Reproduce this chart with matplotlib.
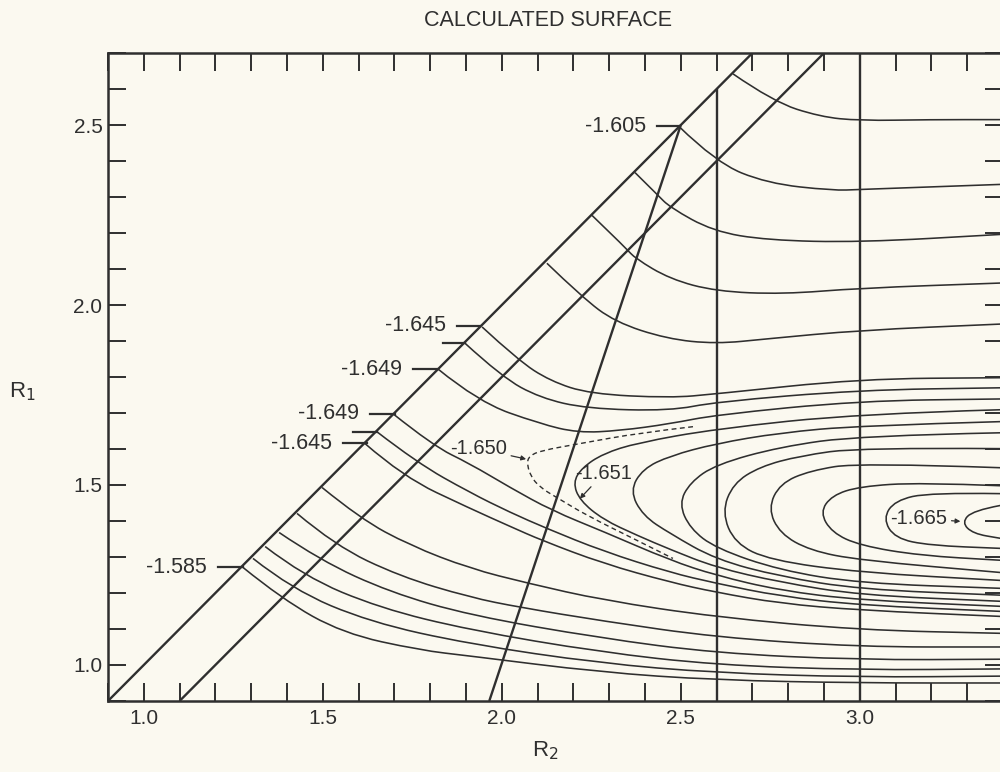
import numpy as np
import matplotlib.pyplot as plt
from matplotlib import font_manager
from matplotlib.path import Path
from matplotlib.patches import PathPatch
from matplotlib.ticker import MultipleLocator, FixedLocator

INK = '#2f2f2f'
PAPER = '#fbf9f0'

installed = {f.name for f in font_manager.fontManager.ttflist}
SANS = ['Liberation Sans', 'DejaVu Sans']
NARROW = ['Liberation Sans Narrow', 'DejaVu Sans'] if 'Liberation Sans Narrow' in installed else SANS

# straight cuts through the surface, (R2, R1) end points
symmetric_line = [(0.9, 0.9), (2.7, 2.7)]
offset_line = [(1.1, 0.9), (2.9, 2.7)]
steep_line = [(1.965, 0.9), (2.5, 2.5)]
cut_r2_26 = [(2.6, 0.9), (2.6, 2.6)]
cut_r2_30 = [(3.0, 0.9), (3.0, 2.7)]

# contours leaving the upper part of the R1 = R2 line, (R2, R1)
upper_1 = [(2.646, 2.642), (2.758, 2.565), (2.889, 2.523), (3.0, 2.512), (3.196, 2.515), (3.392, 2.515)]
upper_2 = [(2.495, 2.496), (2.598, 2.396), (2.741, 2.338), (2.925, 2.318), (3.0, 2.321), (3.392, 2.335)]
upper_3 = [(2.372, 2.368), (2.434, 2.307), (2.470, 2.271), (2.590, 2.205), (2.741, 2.180), (3.0, 2.174),
           (3.392, 2.196)]
upper_4 = [(2.252, 2.249), (2.350, 2.155), (2.372, 2.130), (2.470, 2.072), (2.598, 2.038), (2.785, 2.030),
           (3.0, 2.047), (3.392, 2.061)]
upper_5 = [(2.126, 2.116), (2.224, 2.022), (2.316, 1.953), (2.461, 1.906), (2.598, 1.892), (2.741, 1.906),
           (3.0, 1.930), (3.392, 1.947)]
upper_6 = [(1.945, 1.939), (2.045, 1.847), (2.135, 1.789), (2.246, 1.753), (2.470, 1.742), (2.598, 1.753),
           (3.0, 1.795), (3.392, 1.798)]
upper_7 = [(1.897, 1.894), (2.0, 1.800), (2.107, 1.742), (2.238, 1.712), (2.470, 1.706), (2.598, 1.731),
           (3.0, 1.764), (3.392, 1.770)]
upper_8 = [(1.822, 1.822), (1.934, 1.731), (2.107, 1.670), (2.213, 1.645), (2.330, 1.651), (2.470, 1.670),
           (2.598, 1.695), (3.0, 1.734), (3.392, 1.739)]

# contours leaving the lower part of the R1 = R2 line
lower_1 = [(1.696, 1.698), (1.808, 1.609), (1.911, 1.559), (2.023, 1.493), (2.140, 1.429), (2.283, 1.371),
           (2.470, 1.291), (2.598, 1.249), (2.777, 1.207), (3.0, 1.180), (3.392, 1.163)]
lower_2 = [(1.651, 1.648), (1.763, 1.562), (1.911, 1.479), (2.023, 1.424), (2.126, 1.379), (2.283, 1.316),
           (2.470, 1.257), (2.598, 1.227), (2.777, 1.191), (3.0, 1.166), (3.392, 1.149)]
lower_3 = [(1.618, 1.615), (1.724, 1.523), (1.911, 1.435), (2.023, 1.385), (2.112, 1.346), (2.283, 1.282),
           (2.470, 1.230), (2.598, 1.202), (2.777, 1.171), (3.0, 1.152), (3.392, 1.135)]
lower_4 = [(1.498, 1.493), (1.604, 1.407), (1.744, 1.332), (1.911, 1.268), (2.073, 1.227), (2.283, 1.180),
           (2.598, 1.133), (3.0, 1.097), (3.392, 1.088)]
lower_5 = [(1.428, 1.421), (1.534, 1.332), (1.716, 1.246), (1.911, 1.188), (2.051, 1.160), (2.283, 1.122),
           (2.598, 1.077), (3.0, 1.050), (3.392, 1.050)]
lower_6 = [(1.378, 1.368), (1.492, 1.291), (1.688, 1.202), (1.911, 1.138), (2.274, 1.075), (2.598, 1.033),
           (3.0, 1.014), (3.392, 1.016)]
lower_7 = [(1.339, 1.329), (1.447, 1.246), (1.660, 1.158), (1.911, 1.097), (2.274, 1.036), (2.598, 1.0),
           (3.0, 0.986), (3.392, 0.989)]
lower_8 = [(1.305, 1.296), (1.414, 1.210), (1.632, 1.119), (1.911, 1.058), (2.274, 1.005), (2.598, 0.978),
           (3.0, 0.966), (3.392, 0.969)]
lower_9 = [(1.277, 1.271), (1.386, 1.183), (1.556, 1.088), (1.772, 1.041), (1.911, 1.025), (2.274, 0.980),
           (2.598, 0.958), (3.0, 0.950), (3.392, 0.950)]

# -1.650 contour, drawn dashed
saddle_1650 = [(2.534, 1.662), (2.386, 1.645), (2.218, 1.615), (2.107, 1.595), (2.079, 1.581), (2.070, 1.565),
               (2.079, 1.526), (2.107, 1.493), (2.154, 1.465), (2.238, 1.415), (2.378, 1.346), (2.478, 1.296)]

# nested contours around the well, open towards large R2
well_1 = [(3.392, 1.709), (3.0, 1.698), (2.598, 1.656), (2.378, 1.617), (2.283, 1.587), (2.224, 1.548),
          (2.199, 1.507), (2.218, 1.457), (2.283, 1.404), (2.378, 1.360), (2.470, 1.321), (2.598, 1.271),
          (2.777, 1.230), (3.0, 1.194), (3.392, 1.177)]
well_2 = [(3.392, 1.676), (3.0, 1.665), (2.777, 1.645), (2.598, 1.615), (2.470, 1.581), (2.394, 1.545),
          (2.358, 1.484), (2.394, 1.415), (2.470, 1.365), (2.598, 1.293), (2.777, 1.246), (3.0, 1.210),
          (3.392, 1.194)]
well_3 = [(3.392, 1.645), (3.0, 1.637), (2.777, 1.606), (2.598, 1.557), (2.526, 1.507), (2.495, 1.448),
          (2.526, 1.379), (2.598, 1.324), (2.777, 1.263), (3.0, 1.227), (3.392, 1.213)]
well_4 = [(3.392, 1.601), (3.0, 1.604), (2.833, 1.581), (2.721, 1.551), (2.646, 1.504), (2.615, 1.424),
          (2.651, 1.338), (2.749, 1.291), (3.0, 1.257), (3.392, 1.235)]
well_5 = [(3.392, 1.548), (3.0, 1.562), (2.861, 1.540), (2.777, 1.504), (2.744, 1.435), (2.777, 1.365),
          (2.861, 1.318), (3.0, 1.291), (3.392, 1.257)]
well_6 = [(3.392, 1.498), (3.168, 1.507), (3.0, 1.496), (2.922, 1.471), (2.889, 1.424), (2.922, 1.368),
          (3.0, 1.332), (3.168, 1.304), (3.392, 1.291)]
well_7 = [(3.392, 1.476), (3.196, 1.479), (3.098, 1.457), (3.065, 1.407), (3.098, 1.352), (3.196, 1.332),
          (3.392, 1.324)]
well_8 = [(3.392, 1.443), (3.316, 1.429), (3.285, 1.396), (3.316, 1.365), (3.392, 1.352)]

# level labels hung off the R1 = R2 line
edge_labels = ['-1.605', '-1.645', '', '-1.649', '-1.649', '', '-1.645', '-1.585']
edge_r1 = [2.497, 1.942, 1.894, 1.822, 1.698, 1.648, 1.616, 1.272]
edge_from = [2.434, 1.875, 1.836, 1.752, 1.632, 1.584, 1.556, 1.207]
edge_to = [2.495, 1.939, 1.897, 1.819, 1.702, 1.651, 1.623, 1.277]

# level labels with arrows: text, text position, arrow tip
arrow_labels = ['-1.650', '-1.651', '-1.665']
arrow_text_xy = [(1.935, 1.601), (2.284, 1.532), (3.165, 1.407)]
arrow_tip_xy = [(2.068, 1.572), (2.218, 1.462), (3.281, 1.399)]


def smooth_path(pts):
    pts = np.asarray(pts, float)
    verts = [pts[0]]
    codes = [Path.MOVETO]
    for i in range(1, len(pts) - 1):
        verts += [pts[i], (pts[i] + pts[i + 1]) / 2]
        codes += [Path.CURVE3, Path.CURVE3]
    verts.append(pts[-1])
    codes.append(Path.LINETO)
    return Path(verts, codes)


fig = plt.figure(figsize=(10, 7.72), dpi=100, facecolor=PAPER)
ax = fig.add_axes([0.108, 0.092, 0.895, 0.8393])
ax.set_facecolor(PAPER)
ax.set_xlim(0.9, 3.4)
ax.set_ylim(0.9, 2.7)

for line in [symmetric_line, offset_line, steep_line, cut_r2_26, cut_r2_30]:
    xs, ys = zip(*line)
    ax.plot(xs, ys, color=INK, lw=1.7, solid_capstyle='butt')

solid = [upper_1, upper_2, upper_3, upper_4, upper_5, upper_6, upper_7, upper_8,
         lower_1, lower_2, lower_3, lower_4, lower_5, lower_6, lower_7, lower_8, lower_9,
         well_1, well_2, well_3, well_4, well_5, well_6, well_7, well_8]
for pts in solid:
    ax.add_patch(PathPatch(smooth_path(pts), fill=False, ec=INK, lw=1.15))

ax.add_patch(PathPatch(smooth_path(saddle_1650), fill=False, ec=INK, lw=1.0,
                       linestyle=(0, (3.5, 2.5))))

for text, r1, x0, x1 in zip(edge_labels, edge_r1, edge_from, edge_to):
    ax.plot([x0, x1], [r1, r1], color=INK, lw=1.6)
    if text:
        ax.text(x0 - 0.03, r1, text, ha='right', va='center', fontsize=15.5,
                family=SANS, color=INK)

for text, xy_text, xy_tip in zip(arrow_labels, arrow_text_xy, arrow_tip_xy):
    ax.annotate(text, xy=xy_tip, xytext=xy_text, ha='center', va='center',
                fontsize=14.5, family=NARROW, color=INK,
                arrowprops=dict(arrowstyle='-|>', color=INK, lw=0.9,
                                mutation_scale=7, shrinkA=1, shrinkB=0))

# frame and ticks
for spine in ax.spines.values():
    spine.set_color(INK)
    spine.set_linewidth(1.8)
ax.xaxis.set_major_locator(FixedLocator([1.0, 1.5, 2.0, 2.5, 3.0]))
ax.xaxis.set_minor_locator(MultipleLocator(0.1))
ax.yaxis.set_major_locator(FixedLocator([1.0, 1.5, 2.0, 2.5]))
ax.yaxis.set_minor_locator(MultipleLocator(0.1))
ax.tick_params(which='both', direction='in', length=13, width=1.4, color=INK,
               top=True, right=True, labelcolor=INK, labelsize=15)
ax.tick_params(axis='x', pad=6)
ax.tick_params(axis='y', pad=4)
for lab in ax.get_xticklabels() + ax.get_yticklabels():
    lab.set_family(SANS)

fig.text(0.548, 0.974, 'CALCULATED SURFACE', ha='center', va='center',
         fontsize=15.5, family=SANS, color=INK)
fig.text(0.545, 0.027, 'R$_2$', ha='center', va='center', fontsize=16, family=SANS, color=INK)
fig.text(0.022, 0.493, 'R$_1$', ha='center', va='center', fontsize=16, family=SANS, color=INK)

fig.savefig('out.png', dpi=100, facecolor=PAPER)
